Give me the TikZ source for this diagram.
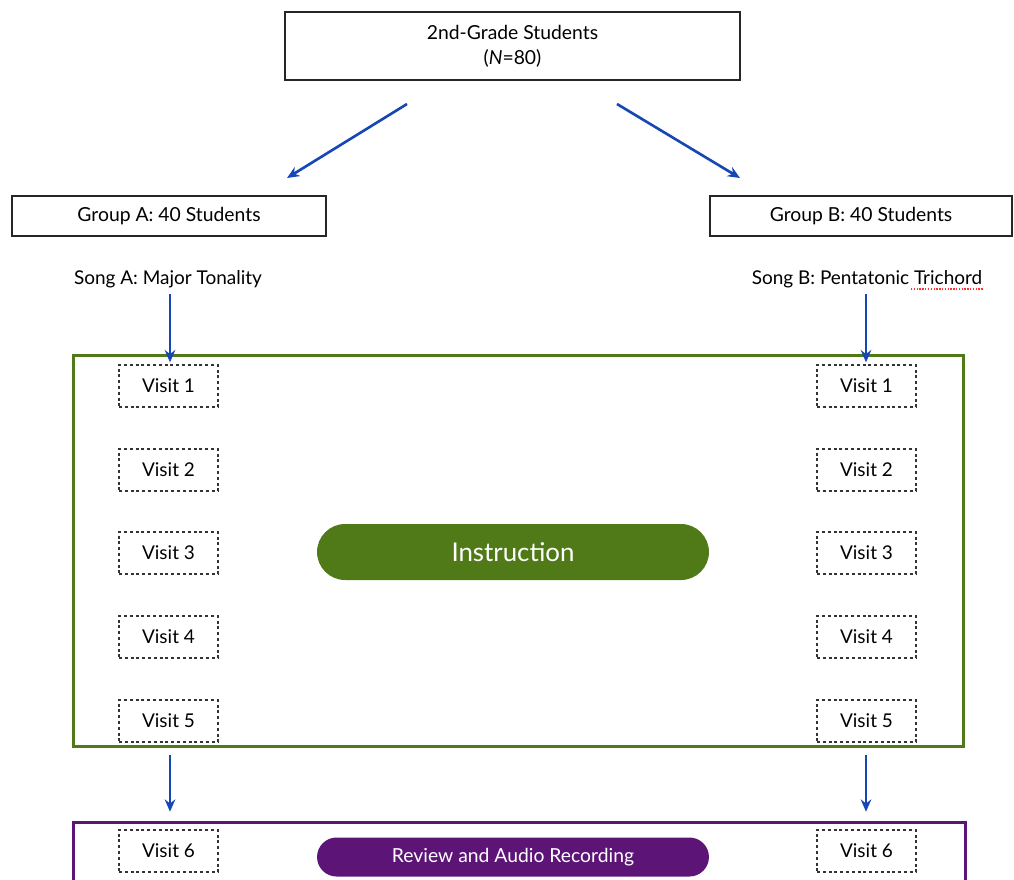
\documentclass[tikz,border=0pt]{standalone}
\usepackage{fontspec}
\setmainfont{Lato}
\usepackage{tikz}
\usetikzlibrary{arrows.meta}

\definecolor{flowblue}{HTML}{1746B5}
\definecolor{instrgreen}{HTML}{4F7A17}
\definecolor{reviewpurple}{HTML}{5C1577}
\definecolor{dashgray}{HTML}{333333}

\begin{document}
\begin{tikzpicture}[x=0.02cm, y=-0.02cm,
box/.style={draw=black!85, line width=1.3pt, fill=white, align=center, font=\fontsize{11}{14}\selectfont},
visit/.style={draw=dashgray, line width=1.5pt, dash pattern=on 1.7pt off 1.6pt, minimum width=1.98cm, minimum height=0.84cm, font=\fontsize{10.8}{12}\selectfont},
frame/.style={line width=1.7pt, inner sep=0pt},
pill/.style={rounded corners=0.56cm, text=white, inner sep=0pt},
flow/.style={->, >={Stealth[length=7pt, width=6pt]}, flowblue, line width=1.5pt},
label/.style={font=\fontsize{10.8}{12}\selectfont}]

\path[use as bounding box] (0,0) rectangle (1014,879);
\clip (0,0) rectangle (1014,879);

% top and groups
\node[box, minimum width=9.1cm, minimum height=1.36cm] (all) at (512.5,46) {2nd-Grade Students\\(\textit{N}=80)};
\node[box, minimum width=6.28cm, minimum height=0.8cm] (grpA) at (169,216) {Group A: 40 Students};
\node[box, minimum width=6.04cm, minimum height=0.8cm] (grpB) at (861,216) {Group B: 40 Students};

\coordinate (splitA) at (407,104);
\coordinate (splitB) at (617,104);
\coordinate (endA) at (287,178);
\coordinate (endB) at (740,178);
\draw[flow] (splitA) -- (endA);
\draw[flow] (splitB) -- (endB);

\node[label] (songA) at (168,279) {Song A: Major Tonality};
\node[label] (songB) at (867,279) {Song B: Pentatonic Trichord};
\draw[red!80, line width=0.8pt, dash pattern=on 0.8pt off 0.8pt] (911,289) -- (984,289);

% instruction block
\node[frame, draw=instrgreen, minimum width=17.82cm, minimum height=7.84cm] (instr) at (518.5,551) {};
\draw[flow] (songA.south -| 170,0) -- ([yshift=-5pt]instr.north -| 170,0);
\draw[flow] (songB.south -| 866,0) -- ([yshift=-5pt]instr.north -| 866,0);

\node[visit] (a1) at (168.5,386) {Visit 1};
\node[visit] (a2) at (168.5,470) {Visit 2};
\node[visit] (a3) at (168.5,553) {Visit 3};
\node[visit] (a4) at (168.5,637) {Visit 4};
\node[visit] (a5) at (168.5,721) {Visit 5};
\node[visit] (b1) at (866.5,386) {Visit 1};
\node[visit] (b2) at (866.5,470) {Visit 2};
\node[visit] (b3) at (866.5,553) {Visit 3};
\node[visit] (b4) at (866.5,637) {Visit 4};
\node[visit] (b5) at (866.5,721) {Visit 5};

\node[pill, fill=instrgreen, minimum width=7.84cm, minimum height=1.12cm, font=\fontsize{14.7}{16}\selectfont] (teach) at (513,552) {Instruction};

% review block
\node[frame, draw=reviewpurple, minimum width=17.86cm, minimum height=1.56cm] (review) at (519.5,861) {};
\draw[flow] ([yshift=-4pt]instr.south -| 170,0) -- ([yshift=5pt]review.north -| 170,0);
\draw[flow] ([yshift=-4pt]instr.south -| 866,0) -- ([yshift=5pt]review.north -| 866,0);

\node[visit] (a6) at (168.5,851) {Visit 6};
\node[visit] (b6) at (866.5,851) {Visit 6};
\node[pill, fill=reviewpurple, rounded corners=0.39cm, minimum width=7.84cm, minimum height=0.78cm, font=\fontsize{11}{12}\selectfont] (record) at (513,857) {Review and Audio Recording};
\end{tikzpicture}
\end{document}
